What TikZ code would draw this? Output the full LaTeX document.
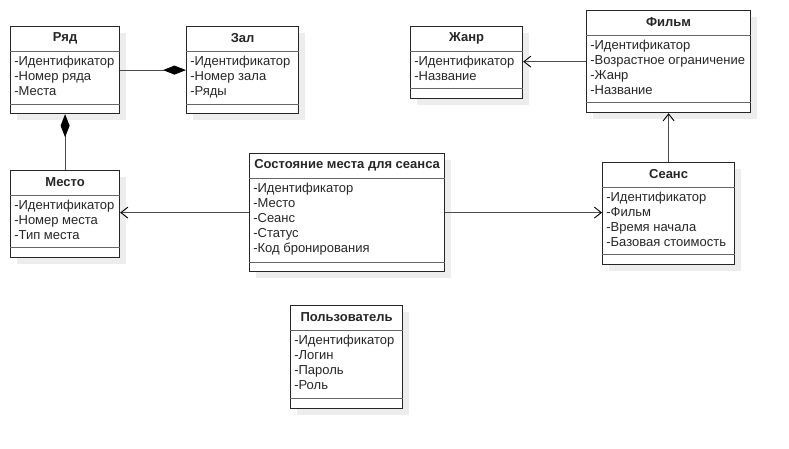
\documentclass[tikz,border=0pt]{standalone}
\usepackage{fontspec}
\setmainfont{Liberation Sans}
\usetikzlibrary{shapes, calc, arrows.meta, positioning, shadows}

% #1 name, #2 top left, #3 width, #4 height, #5 lower line, #6 title, #7 fields
\newcommand{\umlclass}[7]{%
	\node[classbox, minimum width=#3pt, minimum height=#4pt] (#1) at (#2) {};
	\draw[sepline] ($(#1.north west)+(0,-25pt)$) -- ($(#1.north east)+(0,-25pt)$);
	\draw[sepline] ($(#1.north west)+(0,-#5pt)$) -- ($(#1.north east)+(0,-#5pt)$);
	\node[classtitle] (#1-title) at ($(#1.north)+(0,-12.5pt)$) {#6};
	\node[classfields] (#1-fields) at ($(#1.north west)+(4pt,-29.5pt)$) {#7};
}

\begin{document}
\begin{tikzpicture}[x=1pt,y=-1pt,semithick]
	\tikzset{
		classbox/.style={draw=black!85, fill=white, line width=1.2pt, inner sep=0pt, anchor=north west,
			drop shadow={shadow xshift=6pt, shadow yshift=-6pt, fill=black!7, opacity=1}},
		sepline/.style={draw=black!60, line width=1pt},
		classtitle/.style={font=\fontsize{13}{15}\selectfont\bfseries, inner sep=0pt, text=black!85},
		classfields/.style={font=\fontsize{13}{15}\selectfont, align=left, anchor=north west, inner sep=0pt, text=black!85},
		link/.style={draw=black!70, line width=0.9pt},
		uses/.style={link, -{Straight Barb[length=7pt, width=11pt, line width=0.9pt, color=black]}},
		partof/.style={link, -{Diamond[length=23pt, width=9pt, color=black]}}
	}
	\fill[white] (0,0) rectangle (789,448);
	\useasboundingbox (0,0) rectangle (789,448);

	\umlclass{ryad}{10,26}{109}{87}{78}{Ряд}{-Идентификатор\\-Номер ряда\\-Места}
	\umlclass{zal}{186,26}{112}{87}{78}{Зал}{-Идентификатор\\-Номер зала\\-Ряды}
	\umlclass{mesto}{10,170}{109}{87}{77}{Место}{-Идентификатор\\-Номер места\\-Тип места}
	\umlclass{state}{249,153}{195}{118}{109}{Состояние места для сеанса}{-Идентификатор\\-Место\\-Сеанс\\-Статус\\-Код бронирования}
	\umlclass{seans}{602,162}{132}{102}{92}{Сеанс}{-Идентификатор\\-Фильм\\-Время начала\\-Базовая стоимость}
	\umlclass{film}{586,10}{164}{102}{92}{Фильм}{-Идентификатор\\-Возрастное ограничение\\-Жанр\\-Название}
	\umlclass{zhanr}{410,26}{112}{72}{62}{Жанр}{-Идентификатор\\-Название}
	\umlclass{user}{290,305}{112}{103}{93}{Пользователь}{-Идентификатор\\-Логин\\-Пароль\\-Роль}

	\draw[partof] (ryad.east) -- (zal.west);
	\draw[partof] (mesto.north) -- (ryad.south);
	\draw[uses] (state.west) -- (state.west -| mesto.east);
	\draw[uses] (state.east) -- (state.east -| seans.west);
	\draw[uses] (seans.north) -- (film.south);
	\draw[uses] (film.west) -- (film.west -| zhanr.east);
\end{tikzpicture}
\end{document}
